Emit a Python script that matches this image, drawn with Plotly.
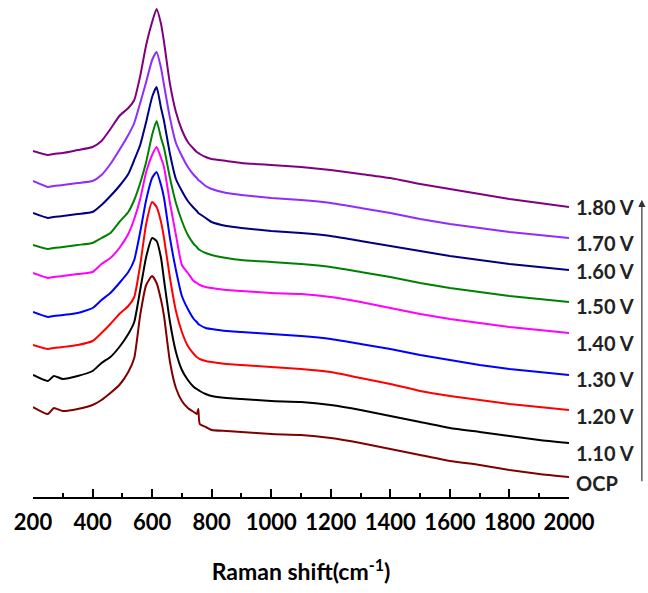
import plotly.graph_objects as go

# Raman shift grid (cm-1)
raman_shift = [200, 250, 270, 300, 350, 400, 430, 460, 490, 520, 540, 560, 580, 600, 615, 630, 640, 660,
               680, 700, 720, 740, 750, 755, 760, 780, 800, 850, 900, 1000, 1100, 1200, 1300, 1400, 1500,
               1600, 1700, 1800, 1900, 2000]

# Stacked intensities (a.u., offset for display)
i_180 = [346, 342, 343, 344, 347, 350, 356, 368, 381, 389, 397, 421, 452, 475, 488, 473, 455, 413, 385, 367,
         355, 348, 345, 344, 343, 340, 338, 336, 334, 332, 330, 327, 323, 319, 313, 308, 303, 298, 294, 290]
i_170 = [316, 310, 311, 312, 314, 316, 322, 333, 347, 362, 374, 394, 415, 437, 445, 429, 412, 379, 354, 341,
         330, 322, 319, 317, 316, 311, 308, 304, 302, 299, 297, 294, 289, 284, 278, 273, 269, 265, 262, 259]
i_160 = [284, 279, 280, 281, 283, 285, 292, 301, 311, 323, 337, 352, 375, 400, 410, 389, 376, 343, 318, 306,
         296, 289, 286, 284, 283, 279, 275, 271, 269, 266, 264, 261, 256, 251, 246, 241, 237, 233, 230, 227]
i_150 = [252, 248, 249, 250, 252, 254, 259, 264, 275, 285, 297, 314, 335, 362, 376, 359, 349, 319, 294, 276,
         262, 253, 250, 248, 247, 244, 242, 239, 237, 235, 233, 230, 225, 220, 214, 209, 205, 201, 198, 195]
i_140 = [224, 219, 220, 221, 223, 225, 233, 239, 249, 263, 278, 298, 325, 342, 350, 339, 330, 294, 262, 232,
         224, 216, 214, 213, 212, 210, 209, 207, 206, 204, 203, 200, 195, 189, 183, 178, 174, 170, 167, 164]
i_130 = [185, 180, 181, 182, 184, 189, 197, 204, 214, 225, 237, 265, 297, 319, 325, 312, 299, 259, 227, 201,
         188, 178, 175, 173, 172, 169, 168, 166, 165, 163, 161, 158, 153, 148, 142, 137, 132, 128, 125, 122]
i_120 = [152, 148, 149, 150, 152, 156, 164, 173, 183, 191, 200, 232, 273, 295, 290, 275, 259, 219, 186, 165,
         151, 143, 140, 139, 138, 136, 135, 133, 132, 130, 128, 125, 119, 113, 106, 101, 97, 93, 90, 87]
i_110 = [122, 116, 121, 118, 121, 126, 134, 140, 150, 163, 175, 207, 240, 259, 256, 239, 217, 175, 145, 127,
         117, 110, 108, 107, 106, 103, 101, 99, 98, 96, 95, 92, 87, 81, 75, 69, 65, 61, 57, 54]
i_ocp = [90, 83, 89, 86, 88, 92, 97, 104, 112, 125, 139, 182, 212, 221, 214, 197, 181, 135, 109, 96,
         89, 85, 83, 88, 73, 70, 67, 66, 65, 63, 62, 59, 54, 48, 42, 36, 32, 27, 23, 20]

labels = ["1.80 V", "1.70 V", "1.60 V", "1.50 V", "1.40 V", "1.30 V", "1.20 V", "1.10 V", "OCP"]
series = [i_180, i_170, i_160, i_150, i_140, i_130, i_120, i_110, i_ocp]
colors = ["#800080", "#8F2CFF", "#000080", "#008000", "#FF00FF", "#0000FF", "#FF0000", "#000000", "#800000"]
label_yshift = [0, -5, -1, -4, -10, -4, -6, -10, -6]

FONT = "Lato"
fig = go.Figure()
for name, ys, c in zip(labels, series, colors):
    fig.add_trace(go.Scatter(x=raman_shift, y=ys, mode="lines", name=name,
                             line=dict(color=c, width=2, shape="spline", smoothing=0.5)))

annotations = []
for name, ys, sh in zip(labels, series, label_yshift):
    annotations.append(dict(x=raman_shift[-1], y=ys[-1], xref="x", yref="y", text="<b>%s</b>" % name,
                            showarrow=False, xanchor="left", yanchor="middle", xshift=5, yshift=sh,
                            font=dict(family=FONT, size=20, color="#222")))
# vertical arrow on the right
annotations.append(dict(x=1.136, y=0.598, xref="paper", yref="paper", ax=0, ay=283,
                        axref="pixel", ayref="pixel", text="", showarrow=True, arrowhead=2,
                        arrowsize=1.2, arrowwidth=1.2, arrowcolor="#333"))

fig.update_layout(
    width=648, height=593,
    margin=dict(l=33, r=79, t=0, b=96),
    paper_bgcolor="white", plot_bgcolor="white",
    showlegend=False,
    annotations=annotations,
    xaxis=dict(range=[200, 2000], tickmode="linear", tick0=200, dtick=200,
               ticks="inside", ticklen=8, tickwidth=1.5, tickcolor="black",
               minor=dict(ticks="inside", ticklen=4, dtick=100, tickwidth=1.5, tickcolor="black"),
               showline=True, linecolor="black", linewidth=1.5, showgrid=False, zeroline=False,
               tickfont=dict(family=FONT, size=22, color="black", weight="bold"),
               ticklabelstandoff=5,
               title=dict(text="Raman shift(cm<sup>-1</sup>)", standoff=30,
                          font=dict(family=FONT, size=23, color="black", weight="bold"))),
    yaxis=dict(range=[0, 497], visible=False),
)

fig.write_html("out.html")
